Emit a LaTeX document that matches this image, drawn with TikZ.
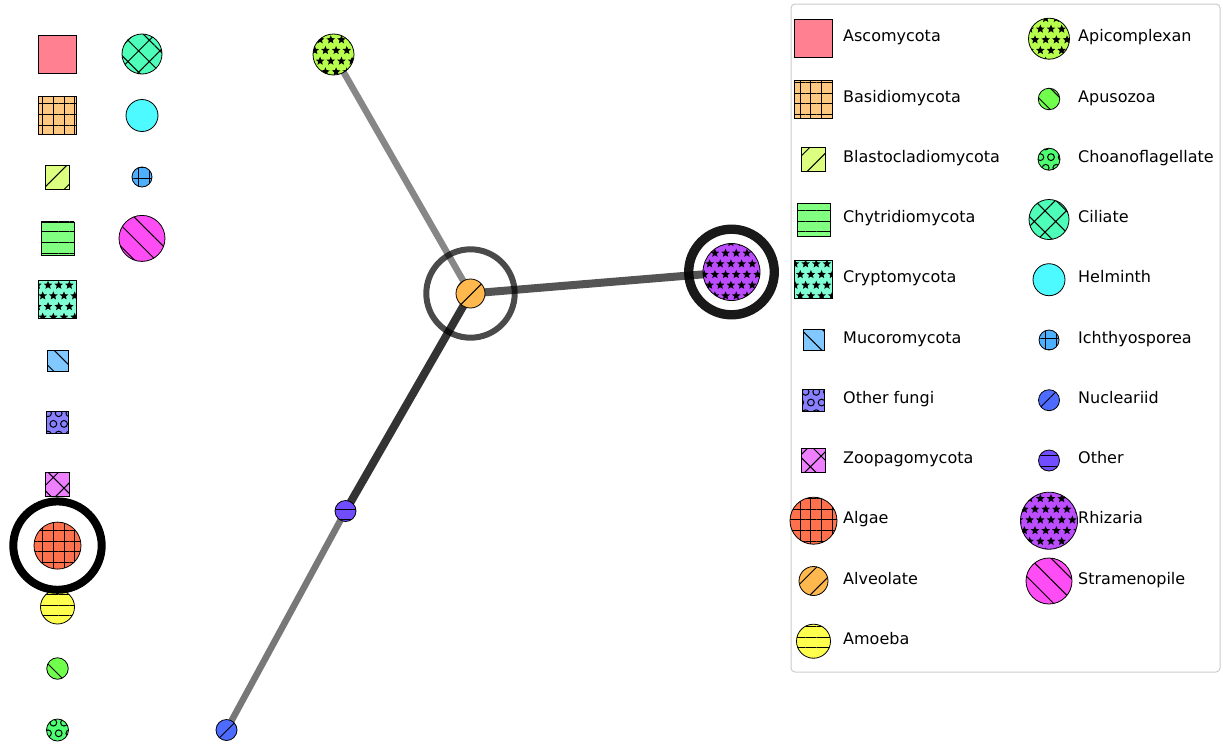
\documentclass[tikz,border=0pt]{standalone}
\usepackage{fontspec}
\setmainfont{DejaVu Sans}
\usetikzlibrary{patterns.meta,backgrounds}
\definecolor{ascomycota}{RGB}{255,128,145}
\definecolor{basidiomycota}{RGB}{255,200,128}
\definecolor{blastocladio}{RGB}{221,255,128}
\definecolor{chytridio}{RGB}{128,255,128}
\definecolor{cryptomycota}{RGB}{128,255,212}
\definecolor{mucoromycota}{RGB}{128,200,255}
\definecolor{otherfungi}{RGB}{136,128,255}
\definecolor{zoopagomycota}{RGB}{238,128,255}
\definecolor{algae}{RGB}{255,112,77}
\definecolor{alveolate}{RGB}{255,184,77}
\definecolor{amoeba}{RGB}{255,255,77}
\definecolor{apicomplexan}{RGB}{184,255,77}
\definecolor{apusozoa}{RGB}{112,255,77}
\definecolor{choanoflag}{RGB}{77,255,112}
\definecolor{ciliate}{RGB}{77,255,184}
\definecolor{helminth}{RGB}{77,250,255}
\definecolor{ichthyo}{RGB}{77,176,255}
\definecolor{nucleariid}{RGB}{77,108,255}
\definecolor{othertaxa}{RGB}{114,77,255}
\definecolor{rhizaria}{RGB}{188,77,255}
\definecolor{stramenopile}{RGB}{255,77,245}
\definecolor{legendgray}{RGB}{204,204,204}

\tikzdeclarepattern{
  name=hatchstars,
  type=uncolored,
  bounding box={(-5pt,-5pt) and (10.5pt,16pt)},
  tile size={(10.67pt,21.34pt)},
  code={
    \fill (90:4.5pt) -- (126:2pt) -- (162:4.5pt) -- (198:2pt) -- (234:4.5pt) -- (270:2pt) -- (306:4.5pt) -- (342:2pt) -- (18:4.5pt) -- (54:2pt) -- cycle;
    \fill[shift={(5.335pt,10.67pt)}] (90:4.5pt) -- (126:2pt) -- (162:4.5pt) -- (198:2pt) -- (234:4.5pt) -- (270:2pt) -- (306:4.5pt) -- (342:2pt) -- (18:4.5pt) -- (54:2pt) -- cycle;
  }
}
\tikzdeclarepattern{
  name=hatchrings,
  type=uncolored,
  bounding box={(-4.5pt,-4.5pt) and (10pt,15.5pt)},
  tile size={(10.67pt,21.34pt)},
  code={
    \draw[line width=1pt] (0pt,0pt) circle[radius=3.4pt];
    \draw[line width=1pt] (5.335pt,10.67pt) circle[radius=3.4pt];
  }
}

\tikzset{
  taxon/.style={draw, line width=0.8pt, inner sep=0pt, outer sep=0pt},
  sq/.style={taxon, rectangle, minimum size=#1},
  dot/.style={taxon, circle, minimum size=#1},
  hatchplus/.style={pattern={Hatch[angle=0,distance=10.67pt,line width=1pt]}},
  hatchslash/.style={pattern={Lines[angle=45,distance=15.08pt,line width=1pt]}},
  hatchbslash/.style={pattern={Lines[angle=-45,distance=15.08pt,line width=1pt]}},
  hatchdash/.style={pattern={Lines[angle=0,distance=10.67pt,line width=1pt]}},
  hatchcross/.style={pattern={Hatch[angle=45,distance=15.08pt,line width=1pt]}},
  hatchstar/.style={pattern=hatchstars},
  hatchring/.style={pattern=hatchrings},
  % fungi
  txAsco/.style={sq=38pt, fill=ascomycota},
  txBasid/.style={sq=38pt, preaction={fill=basidiomycota}, hatchplus},
  txBlasto/.style={sq=24pt, preaction={fill=blastocladio}, hatchslash},
  txChytr/.style={sq=33pt, preaction={fill=chytridio}, hatchdash},
  txCrypto/.style={sq=38pt, preaction={fill=cryptomycota}, hatchstar},
  txMucor/.style={sq=21pt, preaction={fill=mucoromycota}, hatchbslash},
  txOfungi/.style={sq=22pt, preaction={fill=otherfungi}, hatchring},
  txZoopa/.style={sq=24pt, preaction={fill=zoopagomycota}, hatchcross},
  % other groups
  txAlgae/.style={dot=47pt, preaction={fill=algae}, hatchplus},
  txAlveo/.style={dot=29pt, preaction={fill=alveolate}, hatchslash},
  txAmoeba/.style={dot=34pt, preaction={fill=amoeba}, hatchdash},
  txApicom/.style={dot=41pt, preaction={fill=apicomplexan}, hatchstar},
  txApuso/.style={dot=21.5pt, preaction={fill=apusozoa}, hatchbslash},
  txChoano/.style={dot=22pt, preaction={fill=choanoflag}, hatchring},
  txCilia/.style={dot=40pt, preaction={fill=ciliate}, hatchcross},
  txHelmi/.style={dot=32pt, fill=helminth},
  txIchthy/.style={dot=20pt, preaction={fill=ichthyo}, hatchplus},
  txNucle/.style={dot=21pt, preaction={fill=nucleariid}, hatchslash},
  txOther/.style={dot=21pt, preaction={fill=othertaxa}, hatchdash},
  txRhiza/.style={dot=57pt, preaction={fill=rhizaria}, hatchstar},
  txStram/.style={dot=46pt, preaction={fill=stramenopile}, hatchbslash},
  link/.style={draw=black, line cap=butt},
  halo/.style={draw=black, circle, inner sep=0pt},
  lbl/.style={anchor=base west, inner sep=0pt, font=\fontsize{16pt}{19pt}\selectfont},
}

\begin{document}
\begin{tikzpicture}[x=1pt, y=-1pt]
\useasboundingbox (0,0) rectangle (1223,744);

% unlinked taxa
\node[txAsco] (asco) at (57.5,54) {};
\node[txBasid] (basid) at (57.5,115.5) {};
\node[txBlasto] (blasto) at (57.5,177) {};
\node[txChytr] (chytr) at (57.5,238.4) {};
\node[txCrypto] (crypto) at (57.5,299.8) {};
\node[txMucor] (mucor) at (57.5,361.3) {};
\node[txOfungi] (ofungi) at (57.5,422.7) {};
\node[txZoopa] (zoopa) at (57.5,484.2) {};
\node[txAlgae] (algae) at (57.5,545.6) {};
\node[txAmoeba] (amoeba) at (57.5,607) {};
\node[txApuso] (apuso) at (57.5,668.5) {};
\node[txChoano] (choano) at (57.5,730) {};
\node[txCilia] (cilia) at (142,54) {};
\node[txHelmi] (helmi) at (142,115.5) {};
\node[txIchthy] (ichthy) at (142,177) {};
\node[txStram] (stram) at (142,238.4) {};

% linked taxa
\node[txApicom] (apicom) at (333.5,54.5) {};
\node[txAlveo] (alveo) at (470.5,293.5) {};
\node[txRhiza] (rhiza) at (731.5,272) {};
\node[txOther] (other) at (345.5,511) {};
\node[txNucle] (nucle) at (226.5,730) {};

\begin{pgfonlayer}{background}
\draw[link, line width=6.5pt, draw opacity=.47] (apicom.center) -- (alveo.center);
\draw[link, line width=8pt, draw opacity=.67] (alveo.center) -- (rhiza.center);
\draw[link, line width=8pt, draw opacity=.8] (alveo.center) -- (other.center);
\draw[link, line width=6.5pt, draw opacity=.53] (other.center) -- (nucle.center);
\end{pgfonlayer}

\node[halo, minimum size=88.4pt, line width=8pt] (algaering) at (algae) {};
\node[halo, minimum size=88.4pt, line width=6pt, draw opacity=.71] (alveoring) at (alveo) {};
\node[halo, minimum size=85.6pt, line width=9.3pt, draw opacity=.9] (rhizaring) at (rhiza) {};

% legend
\draw[draw=legendgray, line width=1pt, rounded corners=4pt, fill=white] (791,4) rectangle (1220,672);

\node[txAsco] (lgAsco) at (813.5,38.7) {};
\node[lbl] (ltAsco) at (843,41.7) {Ascomycota};
\node[txBasid] (lgBasid) at (813.5,99) {};
\node[lbl] (ltBasid) at (843,102) {Basidiomycota};
\node[txBlasto] (lgBlasto) at (813.5,159.2) {};
\node[lbl] (ltBlasto) at (843,162.2) {Blastocladiomycota};
\node[txChytr] (lgChytr) at (813.5,219.5) {};
\node[lbl] (ltChytr) at (843,222.5) {Chytridiomycota};
\node[txCrypto] (lgCrypto) at (813.5,279.7) {};
\node[lbl] (ltCrypto) at (843,282.7) {Cryptomycota};
\node[txMucor] (lgMucor) at (813.5,340) {};
\node[lbl] (ltMucor) at (843,343) {Mucoromycota};
\node[txOfungi] (lgOfungi) at (813.5,400.2) {};
\node[lbl] (ltOfungi) at (843,403.2) {Other fungi};
\node[txZoopa] (lgZoopa) at (813.5,460.5) {};
\node[lbl] (ltZoopa) at (843,463.5) {Zoopagomycota};
\node[txAlgae] (lgAlgae) at (813.5,520.7) {};
\node[lbl] (ltAlgae) at (843,523.7) {Algae};
\node[txAlveo] (lgAlveo) at (813.5,581) {};
\node[lbl] (ltAlveo) at (843,584) {Alveolate};
\node[txAmoeba] (lgAmoeba) at (813.5,641.2) {};
\node[lbl] (ltAmoeba) at (843,644.2) {Amoeba};

\node[txApicom] (lgApicom) at (1049,38.7) {};
\node[lbl] (ltApicom) at (1078,41.7) {Apicomplexan};
\node[txApuso] (lgApuso) at (1049,99) {};
\node[lbl] (ltApuso) at (1078,102) {Apusozoa};
\node[txChoano] (lgChoano) at (1049,159.2) {};
\node[lbl] (ltChoano) at (1078,162.2) {Choanoflagellate};
\node[txCilia] (lgCilia) at (1049,219.5) {};
\node[lbl] (ltCilia) at (1078,222.5) {Ciliate};
\node[txHelmi] (lgHelmi) at (1049,279.7) {};
\node[lbl] (ltHelmi) at (1078,282.7) {Helminth};
\node[txIchthy] (lgIchthy) at (1049,340) {};
\node[lbl] (ltIchthy) at (1078,343) {Ichthyosporea};
\node[txNucle] (lgNucle) at (1049,400.2) {};
\node[lbl] (ltNucle) at (1078,403.2) {Nucleariid};
\node[txOther] (lgOther) at (1049,460.5) {};
\node[lbl] (ltOther) at (1078,463.5) {Other};
\node[txRhiza] (lgRhiza) at (1049,520.7) {};
\node[lbl] (ltRhiza) at (1078,523.7) {Rhizaria};
\node[txStram] (lgStram) at (1049,581) {};
\node[lbl] (ltStram) at (1078,584) {Stramenopile};
\end{tikzpicture}
\end{document}
